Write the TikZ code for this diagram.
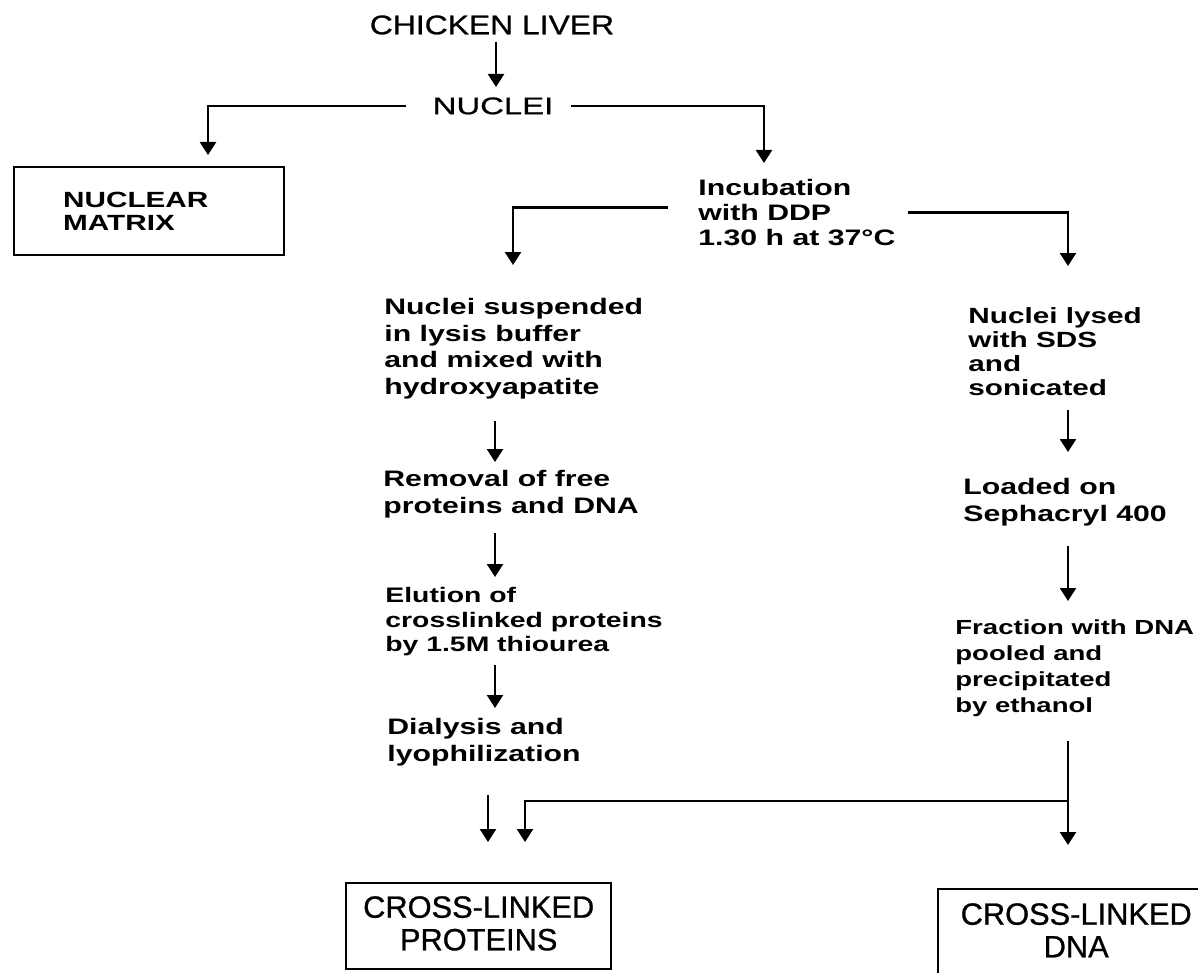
\documentclass[tikz,border=0pt]{standalone}
\usepackage{fontspec}
\setmainfont{Liberation Sans}
\newfontfamily\headfont[FakeStretch=1.18,FakeBold=0.8]{Liberation Sans}
\newfontfamily\nucfont[FakeStretch=1.37,FakeBold=0.8]{Liberation Sans}
\newfontfamily\stepfont[FakeStretch=1.35]{Liberation Sans}
\newfontfamily\endfont[FakeBold=0.8]{Liberation Sans}
\usepackage{tikz}
\usetikzlibrary{positioning}
\usetikzlibrary{arrows.meta}
\usetikzlibrary{calc}
\tikzstyle{head}=[inner sep=0pt, anchor=north, font=\headfont\fontsize{13.5}{16}\selectfont]
\tikzstyle{steptext}=[inner sep=0pt, anchor=north west, align=left, font=\stepfont\bfseries\fontsize{11.2}{13.3}\selectfont]
\tikzstyle{smallstep}=[steptext, font=\stepfont\bfseries\fontsize{10.5}{12.2}\selectfont]
\tikzstyle{matbox}=[draw, line width=1.2pt, anchor=north west, align=left, inner xsep=24.5pt, inner ysep=0pt, text width=86pt, minimum height=44pt, font=\stepfont\bfseries\fontsize{11}{11.5}\selectfont]
\tikzstyle{endbox}=[draw, line width=1.2pt, anchor=north west, align=center, inner xsep=0pt, font=\endfont\fontsize{15.4}{16.3}\selectfont]
\tikzstyle{arr}=[draw, line width=1.2pt, -{Triangle[width=8pt,length=6.5pt]}]

\begin{document}
\begin{tikzpicture}[x=0.5pt, y=-0.5pt]

  \useasboundingbox (0,0) rectangle (1198,973);
  \clip (0,0) rectangle (1198,973);

  % x of the vertical arrows
  \coordinate (topx) at (496,0);
  \coordinate (matx) at (208,0);
  \coordinate (incx) at (764,0);
  \coordinate (lbrx) at (513,0);
  \coordinate (lcol) at (495,0);
  \coordinate (rcol) at (1068,0);
  \coordinate (pax) at (488,0);
  \coordinate (pjx) at (525,0);
  \coordinate (split) at (1068,801);

  \node[head] (liver) at (492,15) {CHICKEN LIVER};
  \node[head, font=\nucfont\fontsize{12}{14}\selectfont] (nuclei) at (493,97) {NUCLEI};

  \node[matbox] (matrix) at (13,166) {NUCLEAR\\MATRIX};

  \node[steptext, font=\stepfont\bfseries\fontsize{11.2}{12.5}\selectfont] (incub) at (698,179) {Incubation\\with DDP\\1.30 h at 37°C};

  \node[steptext] (susp) at (384,298) {Nuclei suspended\\in lysis buffer\\and mixed with\\hydroxyapatite};
  \node[steptext] (remov) at (383,470) {Removal of free\\proteins and DNA};
  \node[smallstep] (elut) at (385,587) {Elution of\\crosslinked proteins\\by 1.5M thiourea};
  \node[steptext] (dial) at (387,718) {Dialysis and\\lyophilization};

  \node[smallstep, font=\stepfont\bfseries\fontsize{11}{12}\selectfont] (lysed) at (968,307) {Nuclei lysed\\with SDS\\and\\sonicated};
  \node[steptext] (loaded) at (963,478) {Loaded on\\Sephacryl 400};
  \node[steptext, font=\stepfont\bfseries\fontsize{10.2}{13}\selectfont] (frac) at (955,619) {Fraction with DNA\\pooled and\\precipitated\\by ethanol};

  \node[endbox, text width=132.5pt, inner ysep=6.5pt, text depth=19pt] (protbox) at (345,882) {CROSS-LINKED\\PROTEINS};
  \node[endbox, text width=138pt, inner ysep=7pt, text depth=28pt] (dnabox) at (937,888) {CROSS-LINKED\\DNA};

  \draw[arr, shorten <=3.5pt, shorten >=5pt] (liver.south -| topx) -- (nuclei.north -| topx);
  \draw[arr, shorten >=5.5pt] ([xshift=-13pt]nuclei.west) -| (matrix.north -| matx);
  \draw[arr, shorten >=8pt] ([xshift=8.5pt]nuclei.east) -| (incub.north -| incx);
  \draw[arr, shorten >=16.5pt] ([xshift=-15pt,yshift=2.5pt]incub.west) -| (susp.north -| lbrx);
  \draw[arr, shorten >=20.5pt] ([xshift=6pt]incub.east) -| (lysed.north -| rcol);

  \foreach \a/\b/\c/\s/\t in {susp/remov/lcol/11pt/4pt, remov/elut/lcol/7.5pt/5pt, elut/dial/lcol/4.5pt/5pt, lysed/loaded/rcol/7pt/13pt, loaded/frac/rcol/10pt/9pt}
    \draw[arr, shorten <=\s, shorten >=\t] (\a.south -| \c) -- (\b.north -| \c);

  \draw[arr, shorten <=12pt, shorten >=21.5pt] (frac.south -| rcol) -- (dnabox.north -| rcol);
  \draw[arr, shorten >=20pt] (split) -| (protbox.north -| pjx);
  \draw[arr, shorten <=14.5pt, shorten >=20pt] (dial.south -| pax) -- (protbox.north -| pax);

\end{tikzpicture}
\end{document}
